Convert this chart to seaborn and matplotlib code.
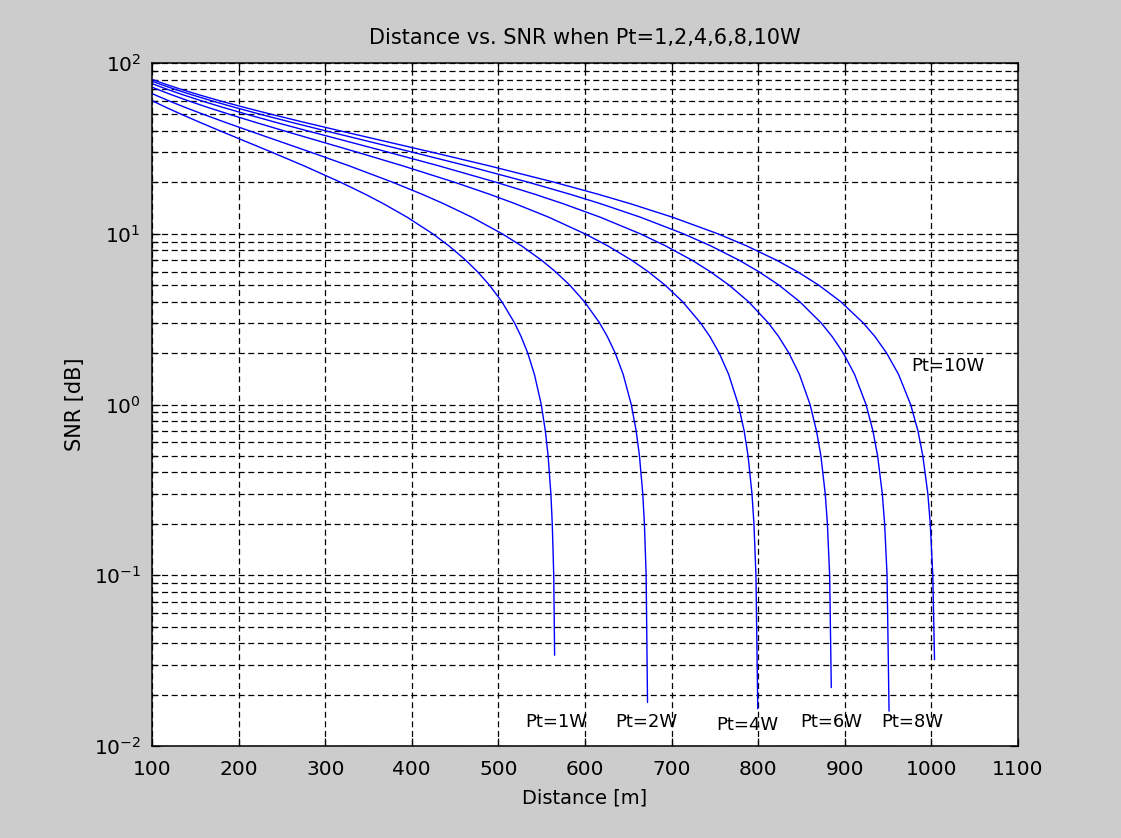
import numpy as np
import pandas as pd
import matplotlib
matplotlib.use("Agg")
import matplotlib.pyplot as plt
import seaborn as sns
from matplotlib.ticker import LogLocator, NullFormatter, FixedLocator, FixedFormatter

# ---------------- data ----------------
power_labels = ["Pt=1W", "Pt=2W", "Pt=4W", "Pt=6W", "Pt=8W", "Pt=10W"]

dist_pt1 = [100, 116.1, 134.1, 154.9, 178.8, 206.5, 238.5, 275.4, 318.0, 346.7, 367.2,
            394.6, 424.1, 442.8, 462.3, 475.8, 489.7, 504.0, 518.7, 526.2, 533.9, 541.6,
            549.5, 554.2, 557.4, 560.6, 562.2, 563.9, 564.9]
snr_pt1 = [60.2, 55, 50, 45, 40, 35, 30, 25, 20, 17, 15, 12.5, 10, 8.5, 7, 6, 5, 4, 3,
           2.5, 2, 1.5, 1, 0.7, 0.5, 0.3, 0.2, 0.1, 0.034]

dist_pt2 = [100, 103.6, 119.6, 138.1, 159.5, 184.2, 212.7, 245.6, 283.6, 327.5, 378.2,
            412.3, 436.7, 469.3, 504.3, 526.6, 549.8, 565.8, 582.4, 599.4, 616.9, 625.8,
            634.9, 644.1, 653.4, 659.1, 662.9, 666.7, 668.6, 670.6, 672.2]
snr_pt2 = [66.2, 65, 60, 55, 50, 45, 40, 35, 30, 25, 20, 17, 15, 12.5, 10, 8.5, 7, 6,
           5, 4, 3, 2.5, 2, 1.5, 1, 0.7, 0.5, 0.3, 0.2, 0.1, 0.018]

dist_pt4 = [100, 106.6, 123.1, 142.2, 164.2, 189.6, 219.0, 252.9, 292.0, 337.2, 389.4,
            449.7, 490.3, 519.3, 558.1, 599.7, 626.2, 653.8, 672.9, 692.5, 712.7, 733.5,
            744.2, 755.0, 765.9, 777.0, 783.8, 788.3, 792.8, 795.1, 797.4, 799.5]
snr_pt4 = [72.2, 70, 65, 60, 55, 50, 45, 40, 35, 30, 25, 20, 17, 15, 12.5, 10, 8.5, 7,
           6, 5, 4, 3, 2.5, 2, 1.5, 1, 0.7, 0.5, 0.3, 0.2, 0.1, 0.0165]

dist_pt6 = [100, 102.2, 118.0, 136.3, 157.4, 181.7, 209.9, 242.3, 279.9, 323.2, 373.2,
            431.0, 497.7, 542.6, 574.7, 617.6, 663.7, 692.9, 723.5, 744.6, 766.4, 788.8,
            811.8, 823.6, 835.5, 847.6, 859.9, 867.3, 872.4, 877.4, 879.9, 882.5, 884.4]
snr_pt6 = [75.8, 75, 70, 65, 60, 55, 50, 45, 40, 35, 30, 25, 20, 17, 15, 12.5, 10, 8.5,
           7, 6, 5, 4, 3, 2.5, 2, 1.5, 1, 0.7, 0.5, 0.3, 0.2, 0.1, 0.022]

dist_pt8 = [100, 109.9, 126.9, 146.5, 169.2, 195.4, 225.6, 260.6, 300.9, 347.5, 401.2,
            463.4, 535.1, 583.3, 617.9, 664.0, 713.5, 745.0, 777.9, 800.6, 824.0, 848.0,
            872.8, 885.4, 898.3, 911.3, 924.5, 932.5, 937.9, 943.3, 946.0, 948.8, 951.1]
snr_pt8 = [78.3, 75, 70, 65, 60, 55, 50, 45, 40, 35, 30, 25, 20, 17, 15, 12.5, 10, 8.5,
           7, 6, 5, 4, 3, 2.5, 2, 1.5, 1, 0.7, 0.5, 0.3, 0.2, 0.1, 0.016]

dist_pt10 = [100, 116.0, 134.0, 154.7, 178.6, 206.3, 238.2, 275.1, 317.7, 366.8, 423.6,
             489.2, 564.9, 615.8, 652.3, 701.0, 753.3, 786.5, 821.2, 845.2, 869.9, 895.3,
             921.4, 934.8, 948.3, 962.1, 976.0, 984.5, 990.1, 995.9, 998.7, 1001.6, 1003.6]
snr_pt10 = [80.2, 75, 70, 65, 60, 55, 50, 45, 40, 35, 30, 25, 20, 17, 15, 12.5, 10, 8.5,
            7, 6, 5, 4, 3, 2.5, 2, 1.5, 1, 0.7, 0.5, 0.3, 0.2, 0.1, 0.032]

x_ticks = [100, 200, 300, 400, 500, 600, 700, 800, 900, 1000, 1100]
y_ticks = [1e-2, 1e-1, 1e0, 1e1, 1e2]
y_tick_labels = [r"$10^{-2}$", r"$10^{-1}$", r"$10^{0}$", r"$10^{1}$", r"$10^{2}$"]

# ---------------- build a long table ----------------
frames = []
for lab, d, s in zip(power_labels,
                     [dist_pt1, dist_pt2, dist_pt4, dist_pt6, dist_pt8, dist_pt10],
                     [snr_pt1, snr_pt2, snr_pt4, snr_pt6, snr_pt8, snr_pt10]):
    frames.append(pd.DataFrame({"Distance": d, "SNR": s, "Power": lab}))
df = pd.concat(frames, ignore_index=True)

# ---------------- style ----------------
sns.set_theme(style="white")
plt.rcParams["font.family"] = ["DejaVu Sans"]
plt.rcParams["mathtext.fontset"] = "dejavusans"
plt.rcParams["lines.scale_dashes"] = False
plt.rcParams["text.color"] = "black"
plt.rcParams["axes.labelcolor"] = "black"
plt.rcParams["xtick.color"] = "black"
plt.rcParams["ytick.color"] = "black"

fig = plt.figure(figsize=(11.21, 8.38), dpi=100, facecolor="#cccccc")
ax = fig.add_axes([152 / 1121, 1 - 746 / 838, 866 / 1121, 683 / 838])
ax.set_facecolor("white")

sns.lineplot(data=df, x="Distance", y="SNR", hue="Power", units="Power",
             estimator=None, sort=False, palette=["#0000ff"] * 6, legend=False,
             linewidth=1.0, ax=ax)

ax.set_yscale("log")
ax.set_xlim(100, 1100)
ax.set_ylim(1e-2, 1e2)

ax.xaxis.set_major_locator(FixedLocator(x_ticks))
ax.set_xticklabels([str(t) for t in x_ticks])
ax.yaxis.set_major_locator(FixedLocator(y_ticks))
ax.yaxis.set_major_formatter(FixedFormatter(y_tick_labels))
ax.yaxis.set_minor_locator(LogLocator(base=10, subs=np.arange(2, 10), numticks=20))
ax.yaxis.set_minor_formatter(NullFormatter())

dash = (0, (4.3, 2.6))
ax.grid(True, which="major", axis="both", color="black", linestyle=dash, linewidth=0.9)
ax.grid(True, which="minor", axis="y", color="black", linestyle=dash, linewidth=0.9)
ax.set_axisbelow(True)

ax.tick_params(axis="x", which="major", direction="in", length=6, width=0.9,
               top=True, bottom=True, labelsize=14.5, colors="black", pad=10)
ax.tick_params(axis="y", which="major", direction="in", length=6, width=0.9,
               left=True, right=True, labelsize=14.5, colors="black", pad=8)
ax.tick_params(axis="y", which="minor", direction="in", length=3.5, width=0.9,
               left=True, right=True)
ax.tick_params(axis="x", which="minor", bottom=False, top=False)

for sp in ax.spines.values():
    sp.set_color("black")
    sp.set_linewidth(1.1)

ax.set_title("Distance vs. SNR when Pt=1,2,4,6,8,10W", fontsize=15, pad=14, color="black")
ax.set_xlabel("Distance [m]", fontsize=14, labelpad=7)
ax.set_ylabel("SNR [dB]", fontsize=15, labelpad=6)

# curve labels
label_pos = [(531, 0.0138), (635, 0.0138), (751, 0.0132), (848, 0.0138), (942, 0.0138), (977, 1.69)]
for lab, (tx, ty) in zip(power_labels, label_pos):
    ax.text(tx, ty, lab, fontsize=13, ha="left", va="center", color="black")

fig.savefig("out.png", dpi=100, facecolor=fig.get_facecolor())
